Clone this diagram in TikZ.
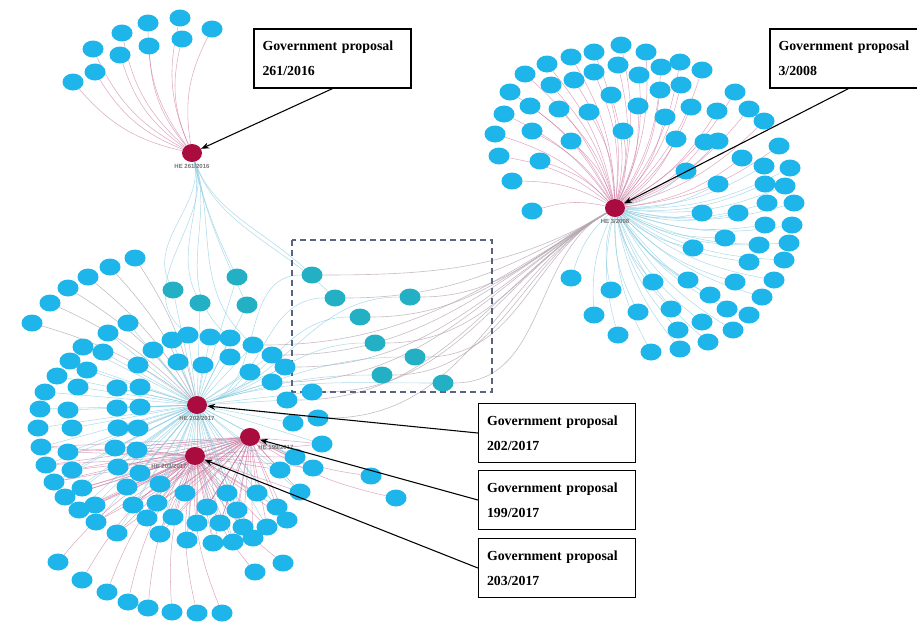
\documentclass[tikz,border=0pt]{standalone}
\usepackage{fontspec}
\setmainfont{Liberation Serif}
\setsansfont{Liberation Sans}
\usetikzlibrary{shapes.geometric,arrows.meta}
\pgfdeclarelayer{background}
\pgfsetlayers{background,main}

\definecolor{leafblue}{RGB}{30,182,234}
\definecolor{leafteal}{RGB}{36,176,196}
\definecolor{hubred}{RGB}{170,12,64}
\definecolor{edgepink}{RGB}{196,100,145}
\definecolor{edgeblue}{RGB}{130,200,222}
\definecolor{edgegrey}{RGB}{180,165,175}
\definecolor{boxdash}{RGB}{90,100,130}

\tikzset{
  leaf/.style={ellipse, fill=leafblue, minimum width=15.75pt, minimum height=12.75pt, inner sep=0pt},
  midleaf/.style={leaf, fill=leafteal},
  hub/.style={ellipse, fill=hubred, minimum width=15pt, minimum height=13.5pt, inner sep=0pt},
  hublabel/.style={font=\sffamily\bfseries\fontsize{4.5}{5}\selectfont, text=black!55, inner sep=1pt},
  pinkedge/.style={draw=edgepink, line width=0.4pt, draw opacity=0.55},
  blueedge/.style={draw=edgeblue, line width=0.4pt, draw opacity=0.65},
  greyedge/.style={draw=edgegrey, line width=0.45pt, draw opacity=0.75},
  callout/.style={draw, line width=0.9pt, fill=white, text width=105pt, minimum height=44.25pt, inner xsep=6.4pt, align=left, font=\bfseries\fontsize{10.4}{18.75}\selectfont},
  pointer/.style={line width=0.8pt, -{Stealth[length=6pt,width=4.5pt]}}
}

\begin{document}
\begin{tikzpicture}[x=0.75pt,y=0.75pt,yscale=-1,xscale=1]
\useasboundingbox (0,0) rectangle (917,622);

%Hubs
\node[hub, label={[hublabel]below:HE 261/2016}] (hub261) at (192,153) {};
\node[hub, label={[hublabel]below:HE 3/2008}] (hub3) at (615,208) {};
\node[hub, label={[hublabel]below:HE 202/2017}] (hub202) at (197,405) {};
\node[hub, label={[hublabel]below right:HE 199/2017}] (hub199) at (250,437) {};
\node[hub, label={[hublabel]below left:HE 203/2017}] (hub203) at (195,456) {};

%Dashed frame
\draw[boxdash, line width=0.8pt, dash pattern=on 4.5pt off 3pt] (292,240) rectangle (492,392);

%Leaves of HE 261/2016
\foreach \x/\y [count=\i] in {148/23, 180/18, 212/29, 122/33, 149/46, 182/39, 93/49, 120/55, 95/72, 73/82}{
  \node[leaf] (tl\i) at (\x,\y) {};
  \begin{pgfonlayer}{background}
    \draw[pinkedge] (hub261) to[bend right=18] (tl\i);
  \end{pgfonlayer}
}

%Leaves of HE 3/2008, upper half
\foreach \x/\y [count=\i] in {621/45, 646/52, 594/52, 571/57, 547/64, 525/74, 510/92, 504/114, 495/134, 499/156, 512/181, 532/211, 618/65, 594/72, 574/80, 551/85, 530/106, 559/109, 532/131, 540/161, 571/141, 589/112, 611/95, 623/131, 639/75, 661/67, 680/62, 702/70, 660/90, 681/85, 638/106, 665/117, 691/107, 717/111, 735/92, 749/109, 764/121, 779/146, 718/141, 676/139, 705/142, 742/158}{
  \node[leaf] (ru\i) at (\x,\y) {};
  \begin{pgfonlayer}{background}
    \draw[pinkedge] (hub3) to[bend left=14] (ru\i);
  \end{pgfonlayer}
}

%Leaves of HE 3/2008, lower half
\foreach \x/\y [count=\i] in {790/168, 785/186, 794/203, 792/225, 789/243, 784/260, 774/280, 762/297, 749/315, 733/330, 708/342, 680/349, 651/352, 618/335, 594/315, 571/278, 611/290, 653/282, 638/312, 671/309, 688/280, 710/295, 727/309, 702/322, 678/330, 735/282, 749/262, 759/245, 765/225, 767/203, 765/184, 764/166, 686/171, 718/184, 738/213, 702/213, 693/248, 725/238}{
  \node[leaf] (rl\i) at (\x,\y) {};
  \begin{pgfonlayer}{background}
    \draw[blueedge] (hub3) to[bend left=14] (rl\i);
  \end{pgfonlayer}
}

%Shared leaves in the frame
\foreach \x/\y [count=\i] in {312/275, 335/298, 410/297, 360/317, 375/343, 415/357, 382/375, 443/383}{
  \node[midleaf] (mid\i) at (\x,\y) {};
  \begin{pgfonlayer}{background}
    \draw[greyedge] (hub3) to[out=145,in=0] (mid\i);
    \draw[blueedge] (hub202) to[out=-20,in=180] (mid\i);
  \end{pgfonlayer}
}

%Leaves between HE 261/2016 and the lower cluster
\foreach \x/\y [count=\i] in {173/290, 200/303, 237/277, 247/305}{
  \node[midleaf] (lt\i) at (\x,\y) {};
  \begin{pgfonlayer}{background}
    \draw[blueedge] (hub261) to[out=80,in=-110] (lt\i);
    \draw[blueedge] (hub202) -- (lt\i);
  \end{pgfonlayer}
}

%Outer arc, top left
\foreach \x/\y [count=\i] in {135/258, 110/267, 88/277, 68/288, 50/303, 32/323}{
  \node[leaf] (ot\i) at (\x,\y) {};
  \begin{pgfonlayer}{background}
    \draw[greyedge] (hub202) to[bend left=10] (ot\i);
  \end{pgfonlayer}
}

%Lower cluster, upper part
\foreach \x/\y [count=\i] in {83/347, 70/361, 57/376, 45/392, 40/409, 38/428, 108/333, 103/352, 87/370, 78/387, 68/410, 72/428, 128/323, 117/388, 117/408, 118/428, 138/365, 140/387, 140/407, 138/428, 153/350, 172/340, 188/335, 210/337, 230/338, 253/345, 272/355, 285/367, 178/362, 203/365, 230/357, 250/372, 272/382, 287/400, 293/423, 312/392, 318/418}{
  \node[leaf] (clu\i) at (\x,\y) {};
  \begin{pgfonlayer}{background}
    \draw[blueedge] (hub202) -- (clu\i);
  \end{pgfonlayer}
}

%Lower cluster, lower part
\foreach \x/\y [count=\i] in {41/447, 46/465, 54/482, 65/497, 79/510, 96/522, 117/533, 68/452, 72/470, 82/488, 95/505, 115/448, 118/467, 127/487, 133/505, 137/450, 140/473, 147/518, 157/503, 160/484, 160/534, 173/517, 185/493, 187/540, 197/523, 207/507, 213/543, 220/523, 227/493, 233/542, 237/510, 243/527, 253/538, 257/493, 267/527, 277/507, 287/520, 280/470, 295/457, 322/444, 313/468, 300/492}{
  \node[leaf] (cll\i) at (\x,\y) {};
  \begin{pgfonlayer}{background}
    \draw[blueedge] (hub202) -- (cll\i);
    \draw[pinkedge] (hub203) -- (cll\i);
    \draw[pinkedge] (hub199) -- (cll\i);
  \end{pgfonlayer}
}

%Outer arc, bottom
\foreach \x/\y [count=\i] in {58/562, 82/580, 107/592, 128/602, 148/608, 172/612, 197/613, 222/613, 255/572, 283/563}{
  \node[leaf] (bo\i) at (\x,\y) {};
  \begin{pgfonlayer}{background}
    \draw[pinkedge] (hub203) to[bend left=12] (bo\i);
  \end{pgfonlayer}
}
\foreach \x/\y [count=\i] in {371/476, 396/498}{
  \node[leaf] (iso\i) at (\x,\y) {};
  \begin{pgfonlayer}{background}
    \draw[pinkedge] (hub199) to[bend left=10] (iso\i);
  \end{pgfonlayer}
}

%Long links
\begin{pgfonlayer}{background}
  \foreach \n in {clu26, clu27, clu28, clu33, clu34, clu36, clu37}
    \draw[greyedge] (hub3) to[out=145,in=0] (\n);
  \foreach \n in {mid1, mid2, clu23, clu25, clu26}
    \draw[blueedge] (hub261) to[out=75,in=-130] (\n);
\end{pgfonlayer}

%Callouts
\node[callout] (box261) at (332.5,58.5) {Government proposal\\261/2016};
\node[callout] (box3) at (848.5,58.5) {Government proposal\\3/2008};
\node[callout] (box202) at (557,433) {Government proposal\\202/2017};
\node[callout] (box199) at (557,500) {Government proposal\\199/2017};
\node[callout] (box203) at (557,568) {Government proposal\\203/2017};

\draw[pointer] (box261.south) -- (hub261);
\draw[pointer] (box3.south) -- (hub3);
\draw[pointer] (box202.west) -- (hub202);
\draw[pointer] (box199.west) -- (hub199);
\draw[pointer] (box203.west) -- (hub203);

\end{tikzpicture}
\end{document}
